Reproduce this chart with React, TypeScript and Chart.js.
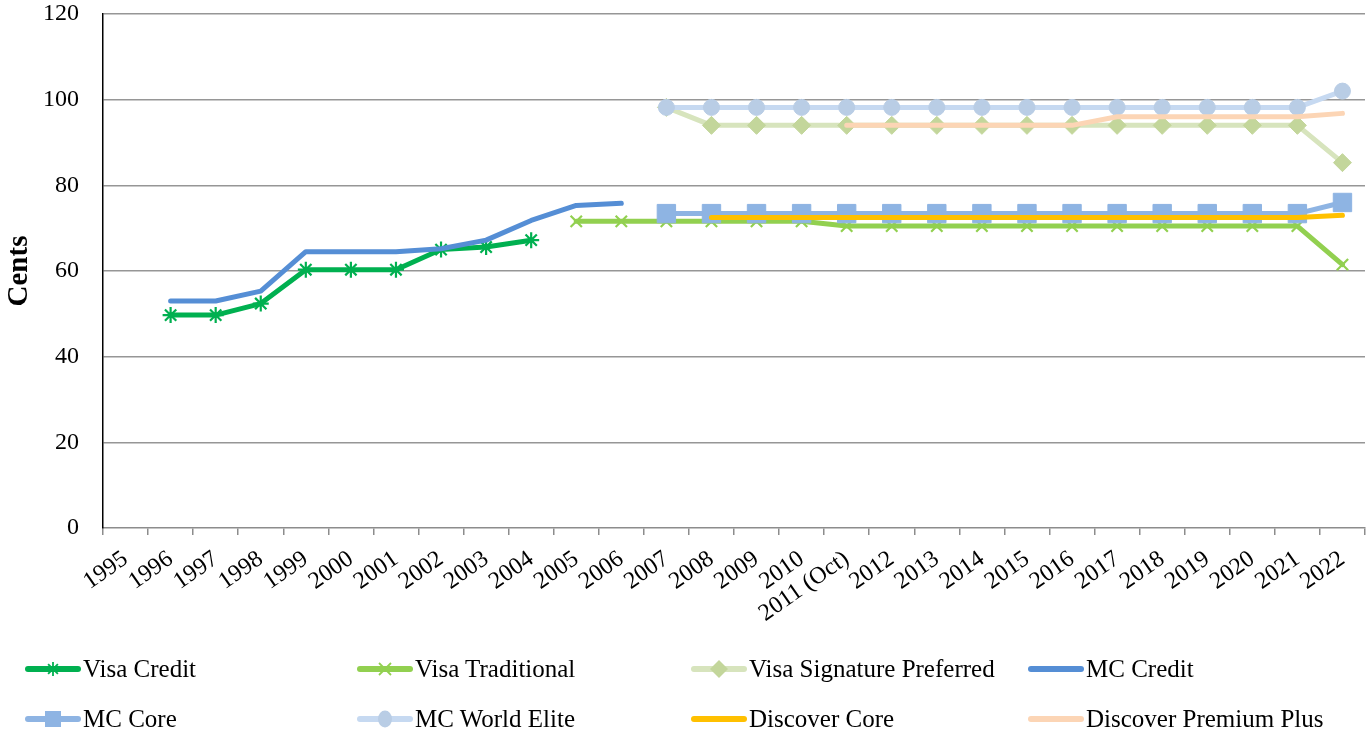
import React, { useEffect, useRef } from "react";
import { Chart, registerables } from "chart.js";

Chart.register(...registerables);

const categories = [
  "1995", "1996", "1997", "1998", "1999", "2000", "2001", "2002", "2003", "2004",
  "2005", "2006", "2007", "2008", "2009", "2010", "2011 (Oct)", "2012", "2013", "2014",
  "2015", "2016", "2017", "2018", "2019", "2020", "2021", "2022",
];

const N = null;
const visaCredit = [N, 49.7, 49.7, 52.4, 60.3, 60.3, 60.3, 65.0, 65.6, 67.2, N, N, N, N, N, N, N, N, N, N, N, N, N, N, N, N, N, N];
const visaTraditional = [N, N, N, N, N, N, N, N, N, N, 71.6, 71.6, 71.6, 71.6, 71.6, 71.6, 70.5, 70.5, 70.5, 70.5, 70.5, 70.5, 70.5, 70.5, 70.5, 70.5, 70.5, 61.5];
const visaSignaturePreferred = [N, N, N, N, N, N, N, N, N, N, N, N, 98.2, 94, 94, 94, 94, 94, 94, 94, 94, 94, 94, 94, 94, 94, 94, 85.3];
const mcCredit = [N, 53.0, 53.0, 55.3, 64.5, 64.5, 64.5, 65.2, 67.2, 71.8, 75.3, 75.8, N, N, N, N, N, N, N, N, N, N, N, N, N, N, N, N];
const mcCore = [N, N, N, N, N, N, N, N, N, N, N, N, 73.4, 73.4, 73.4, 73.4, 73.4, 73.4, 73.4, 73.4, 73.4, 73.4, 73.4, 73.4, 73.4, 73.4, 73.4, 76.0];
const mcWorldElite = [N, N, N, N, N, N, N, N, N, N, N, N, 98.2, 98.2, 98.2, 98.2, 98.2, 98.2, 98.2, 98.2, 98.2, 98.2, 98.2, 98.2, 98.2, 98.2, 98.2, 102.0];
const discoverCore = [N, N, N, N, N, N, N, N, N, N, N, N, N, 72.5, 72.5, 72.5, 72.5, 72.5, 72.5, 72.5, 72.5, 72.5, 72.5, 72.5, 72.5, 72.5, 72.5, 73.0];
const discoverPremiumPlus = [N, N, N, N, N, N, N, N, N, N, N, N, N, N, N, N, 94, 94, 94, 94, 94, 94, 96, 96, 96, 96, 96, 96.8];

const seriesNames = [
  "Visa Credit", "Visa Traditional", "Visa Signature Preferred", "MC Credit",
  "MC Core", "MC World Elite", "Discover Core", "Discover Premium Plus",
];
const seriesData = [
  visaCredit, visaTraditional, visaSignaturePreferred, mcCredit,
  mcCore, mcWorldElite, discoverCore, discoverPremiumPlus,
];

type Style = { line: string; marker: string | false; fill: string; radius: number; bw: number };
const styles: Style[] = [
  { line: "#00B050", marker: "star", fill: "#00B050", radius: 8, bw: 2.2 },
  { line: "#92D050", marker: "crossRot", fill: "#92D050", radius: 8, bw: 2.2 },
  { line: "#D7E4BD", marker: "rectRot", fill: "#C3D69B", radius: 9, bw: 1 },
  { line: "#558ED5", marker: false, fill: "#558ED5", radius: 0, bw: 0 },
  { line: "#8EB4E3", marker: "rect", fill: "#8EB4E3", radius: 13, bw: 1 },
  { line: "#C6D9F1", marker: "circle", fill: "#B9CDE5", radius: 8, bw: 1 },
  { line: "#FFC000", marker: false, fill: "#FFC000", radius: 0, bw: 0 },
  { line: "#FCD5B5", marker: false, fill: "#FCD5B5", radius: 0, bw: 0 },
];

const FONT = "'Liberation Serif', 'Times New Roman', serif";

function LegendMarker({ s }: { s: Style }) {
  const cx = 28, cy = 10;
  let m: React.ReactNode = null;
  if (s.marker === "star") {
    const r = 7;
    m = (
      <g stroke={s.fill} strokeWidth={1.8}>
        <line x1={cx - r} y1={cy} x2={cx + r} y2={cy} />
        <line x1={cx} y1={cy - r} x2={cx} y2={cy + r} />
        <line x1={cx - r * 0.7} y1={cy - r * 0.7} x2={cx + r * 0.7} y2={cy + r * 0.7} />
        <line x1={cx - r * 0.7} y1={cy + r * 0.7} x2={cx + r * 0.7} y2={cy - r * 0.7} />
      </g>
    );
  } else if (s.marker === "crossRot") {
    const r = 6;
    m = (
      <g stroke={s.fill} strokeWidth={1.8}>
        <line x1={cx - r} y1={cy - r} x2={cx + r} y2={cy + r} />
        <line x1={cx - r} y1={cy + r} x2={cx + r} y2={cy - r} />
      </g>
    );
  } else if (s.marker === "rectRot") {
    const r = 9;
    m = <polygon points={`${cx - r},${cy} ${cx},${cy - r} ${cx + r},${cy} ${cx},${cy + r}`} fill={s.fill} />;
  } else if (s.marker === "rect") {
    m = <rect x={cx - 8} y={cy - 8} width={16} height={16} fill={s.fill} />;
  } else if (s.marker === "circle") {
    m = <ellipse cx={cx} cy={cy} rx={7} ry={8.5} fill={s.fill} />;
  }
  return (
    <svg width={56} height={20} style={{ display: "block" }}>
      <line x1={3} y1={cy} x2={53} y2={cy} stroke={s.line} strokeWidth={6} strokeLinecap="round" />
      {m}
    </svg>
  );
}

export default function App() {
  const canvasRef = useRef<HTMLCanvasElement | null>(null);

  useEffect(() => {
    const canvas = canvasRef.current;
    if (!canvas) return;
    const n = seriesNames.length;
    const chart = new Chart(canvas, {
      type: "line",
      data: {
        labels: categories,
        datasets: seriesNames.map((name, i) => {
          const s = styles[i];
          return {
            label: name,
            data: seriesData[i],
            order: n - i,
            borderColor: s.line,
            backgroundColor: s.fill,
            borderWidth: 5,
            borderCapStyle: "round" as const,
            borderJoinStyle: "round" as const,
            tension: 0,
            spanGaps: false,
            clip: 20,
            pointStyle: (s.marker || "circle") as any,
            pointRadius: s.marker ? s.radius : 0,
            pointHoverRadius: s.marker ? s.radius : 0,
            pointBackgroundColor: s.fill,
            pointBorderColor: s.fill,
            pointBorderWidth: s.bw,
          };
        }),
      },
      options: {
        animation: false,
        responsive: true,
        maintainAspectRatio: false,
        layout: { autoPadding: false, padding: { top: 14, right: 5, left: 0, bottom: 0 } },
        plugins: {
          legend: { display: false },
          tooltip: { enabled: false },
        },
        scales: {
          x: {
            type: "category",
            offset: true,
            afterFit: (scale: any) => {
              scale.height = 210;
              scale.paddingLeft = 0;
              scale.paddingRight = 0;
            },
            grid: {
              offset: true,
              drawOnChartArea: false,
              drawTicks: true,
              tickLength: 7,
              color: "#8c8c8c",
              lineWidth: 1.5,
            },
            border: { display: true, color: "#8c8c8c", width: 1.5 },
            ticks: {
              autoSkip: false,
              minRotation: 35,
              maxRotation: 35,
              padding: 10,
              color: "#000",
              font: { family: FONT, size: 24 },
            },
          },
          y: {
            min: 0,
            max: 120,
            afterFit: (scale: any) => {
              scale.width = 103;
              scale.paddingTop = 0;
              scale.paddingBottom = 0;
            },
            grid: {
              drawTicks: false,
              color: (ctx: any) => (ctx.tick && ctx.tick.value === 0 ? "rgba(0,0,0,0)" : "#969696"),
              lineWidth: 1.5,
            },
            border: { display: true, color: "#000", width: 1.5 },
            ticks: {
              stepSize: 20,
              padding: 24,
              color: "#000",
              font: { family: FONT, size: 24 },
            },
            title: {
              display: true,
              text: "Cents",
              color: "#000",
              padding: { top: 2, bottom: 0 },
              font: { family: FONT, size: 29, weight: "bold" },
            },
          },
        },
      },
    });
    return () => chart.destroy();
  }, []);

  const colX = [25, 357, 691, 1028];
  const rowY = [659, 709];

  return (
    <div style={{ position: "fixed", left: 0, top: 0, width: 1370, height: 738, background: "#fff" }}>
      <canvas ref={canvasRef} style={{ width: "1370px", height: "738px", display: "block" }} />
      {seriesNames.map((name, i) => {
        const col = i % 4;
        const row = Math.floor(i / 4);
        return (
          <div
            key={name}
            style={{
              position: "absolute",
              left: colX[col],
              top: rowY[row],
              height: 20,
              display: "flex",
              alignItems: "center",
              fontFamily: FONT,
              fontSize: 25,
              color: "#000",
              whiteSpace: "nowrap",
            }}
          >
            <LegendMarker s={styles[i]} />
            <span style={{ marginLeft: 2, lineHeight: "20px" }}>{name}</span>
          </div>
        );
      })}
    </div>
  );
}
